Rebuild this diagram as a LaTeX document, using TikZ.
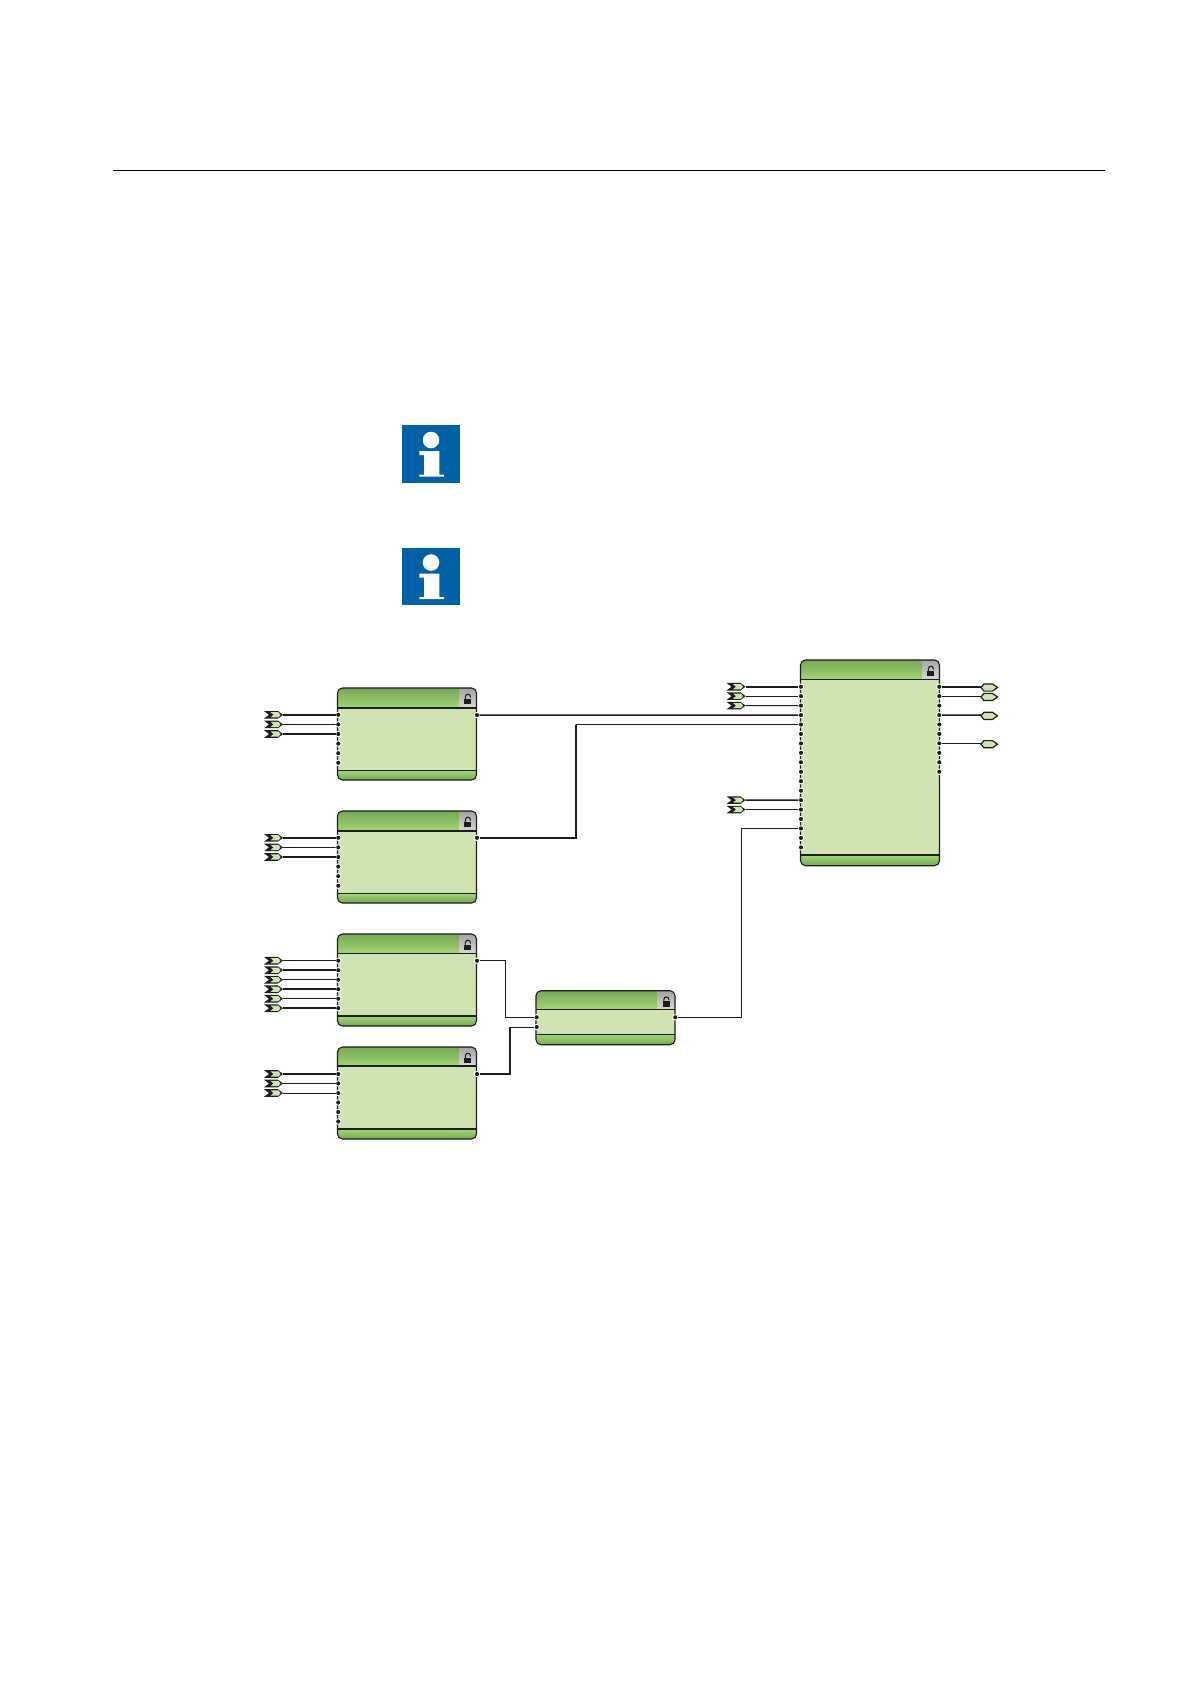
\documentclass[tikz,border=0pt]{standalone}
\definecolor{blockbody}{RGB}{207,228,178}
\definecolor{blocktop}{RGB}{118,168,88}
\definecolor{blockbottom}{RGB}{162,214,114}
\definecolor{infoblue}{RGB}{0,98,165}
\definecolor{wireblack}{RGB}{28,30,26}
\tikzset{
  thinwire/.style={draw=wireblack,line width=0.8pt},
  thickwire/.style={draw=wireblack,line width=1.6pt},
  portdot/.style={circle,fill=wireblack,draw=white,line width=0.9pt,inner sep=0pt,minimum size=5.4pt,outer sep=0pt},
  fblock/.style={anchor=north west,inner sep=0pt,outer sep=0pt,minimum width=139pt,rounded corners=5pt},
  pinnode/.style={inner sep=0pt,outer sep=0pt,minimum size=0pt},
}
\newcommand{\fblock}[6]{
  \node[fblock,minimum height=#4pt] (#1) at (#2,#3) {};
  \begin{scope}
    \clip[rounded corners=5pt] (#2,#3) rectangle ++(139,#4);
    \fill[blockbody] (#2,#3) rectangle ++(139,#4);
    \shade[top color=blocktop,bottom color=blockbottom] (#2,#3) rectangle ++(139,#5);
    \shade[top color=blockbottom,bottom color=blocktop] (#2,{#3+#4-#6}) rectangle ++(139,#6);
    \shade[top color=gray!70,bottom color=gray!30] ({#2+121.5},{#3+1}) rectangle ({#2+139},{#3+#5});
    \draw[wireblack,line width=1.1pt] ({#2+127.9},{#3+12}) -- ({#2+127.9},{#3+8.7})
      arc[start angle=180,end angle=360,radius=2.5] -- ({#2+132.9},{#3+9.5});
    \fill[wireblack] ({#2+126.8},{#3+10.5}) rectangle ({#2+133.8},{#3+16});
    \draw[wireblack,line width=1.4pt] (#2,{#3+#5}) -- ++(139,0);
    \draw[wireblack,line width=1.2pt] (#2,{#3+#4-#6}) -- ++(139,0);
  \end{scope}
  \draw[wireblack,line width=1.1pt,rounded corners=5pt] (#2,#3) rectangle ++(139,#4);
}
\newcommand{\portcol}[5]{
  \foreach \i in {1,...,#4}
    \node[portdot] (#1\i) at (#2,{#3+#5*(\i-1)}) {};
}
\newcommand{\inpin}[3]{
  \node[pinnode] (#1) at (#2,#3) {};
  \fill[wireblack] ({#2-19},{#3-3.8}) -- ({#2-5},{#3-3.8}) -- (#2,#3) -- ({#2-5},{#3+3.8})
    -- ({#2-19},{#3+3.8}) -- ({#2-14},#3) -- cycle;
  \fill[blockbody] ({#2-12.5},{#3-2.6}) -- ({#2-4.5},{#3-2.6}) -- ({#2-2.5},#3) -- ({#2-4.5},{#3+2.6})
    -- ({#2-12.5},{#3+2.6}) -- ({#2-9.5},#3) -- cycle;
}
\newcommand{\outpin}[3]{
  \node[pinnode] (#1) at (#2,#3) {};
  \draw[wireblack,fill=blockbody,line width=1.2pt] (#2,{#3+0.8}) -- ({#2+3},{#3-2.8}) -- ({#2+11.5},{#3-2.8})
    -- ({#2+16.5},{#3+0.8}) -- ({#2+11.5},{#3+4.4}) -- ({#2+3},{#3+4.4}) -- cycle;
}
\newcommand{\infoicon}[3]{
  \fill[infoblue] (#2,#3) rectangle ++(58,57.7);
  \fill[white] ({#2+29},{#3+15}) circle (8.3);
  \fill[white] ({#2+17.3},{#3+26}) -- ({#2+37.3},{#3+26}) -- ({#2+37.3},{#3+49.5}) -- ({#2+42},{#3+49.5})
    -- ({#2+42},{#3+51.7}) -- ({#2+17.3},{#3+51.7}) -- ({#2+17.3},{#3+49.5}) -- ({#2+22},{#3+49.5})
    -- ({#2+22},{#3+30}) -- ({#2+17.3},{#3+30}) -- cycle;
  \coordinate (#1) at (#2,#3);
}
\begin{document}
\begin{tikzpicture}[x=1pt,y=-1pt]
\useasboundingbox (0,0) rectangle (1191,1684);
\fill[white] (0,0) rectangle (1191,1684);

\coordinate (ruleL) at (112.7,170.5);
\coordinate (ruleR) at (1105,170.5);
\draw[black,line width=1pt] (ruleL)--(ruleR);

\infoicon{infoA}{402}{425}
\infoicon{infoB}{402}{547.5}

\fblock{fbA}{337.5}{688}{92}{20}{9.5}
\fblock{fbB}{337.5}{811}{92}{20}{9.5}
\fblock{fbC}{337.5}{934}{92}{19.3}{10}
\fblock{fbD}{337.5}{1047}{92}{19}{10}
\fblock{fbE}{536}{990.7}{54}{18.6}{10}
\fblock{fbF}{800.5}{660}{205.7}{19.3}{10.7}

\portcol{aL}{338.3}{714.8}{6}{9.6}
\portcol{bL}{338.3}{837.8}{6}{9.6}
\portcol{cL}{338.3}{960.7}{6}{9.5}
\portcol{dL}{338.3}{1074}{6}{9.5}
\portcol{eL}{536.7}{1017.3}{2}{9.7}
\portcol{fL}{801}{686.7}{18}{9.45}
\portcol{fR}{939.3}{686.7}{10}{9.45}
\node[portdot] (aR) at (477,715.05) {};
\node[portdot] (bR) at (477,837.8) {};
\node[portdot] (cR) at (477,960.7) {};
\node[portdot] (dR) at (477,1074) {};
\node[portdot] (eR) at (675.3,1017.3) {};

\inpin{pa1}{283}{714.8}
\inpin{pa2}{283}{724.4}
\inpin{pa3}{283}{734}
\inpin{pb1}{283}{837.8}
\inpin{pb2}{283}{847.4}
\inpin{pb3}{283}{857}
\inpin{pc1}{283}{960.7}
\inpin{pc2}{283}{970.2}
\inpin{pc3}{283}{979.7}
\inpin{pc4}{283}{989.2}
\inpin{pc5}{283}{998.7}
\inpin{pc6}{283}{1008.2}
\inpin{pd1}{283}{1074}
\inpin{pd2}{283}{1083.5}
\inpin{pd3}{283}{1093}
\inpin{pf1}{745.5}{686.7}
\inpin{pf2}{745.5}{696.15}
\inpin{pf3}{745.5}{705.6}
\inpin{pf4}{745.5}{800.1}
\inpin{pf5}{745.5}{809.55}
\outpin{qf1}{981}{686.7}
\outpin{qf2}{981}{696.15}
\outpin{qf3}{981}{715.05}
\outpin{qf4}{981}{743.4}

\draw[thickwire] (pa1)--(aL1);
\draw[thinwire] (pa2)--(aL2);
\draw[thickwire] (pa3)--(aL3);
\draw[thickwire] (pb1)--(bL1);
\draw[thinwire] (pb2)--(bL2);
\draw[thickwire] (pb3)--(bL3);
\draw[thinwire] (pc1)--(cL1);
\draw[thickwire] (pc2)--(cL2);
\draw[thinwire] (pc3)--(cL3);
\draw[thickwire] (pc4)--(cL4);
\draw[thinwire] (pc5)--(cL5);
\draw[thickwire] (pc6)--(cL6);
\draw[thickwire] (pd1)--(dL1);
\draw[thinwire] (pd2)--(dL2);
\draw[thinwire] (pd3)--(dL3);
\draw[thickwire] (pf1)--(fL1);
\draw[thinwire] (pf2)--(fL2);
\draw[thinwire] (pf3)--(fL3);
\draw[thickwire] (pf4)--(fL13);
\draw[thinwire] (pf5)--(fL14);
\draw[thickwire] (fR1)--(qf1);
\draw[thinwire] (fR2)--(qf2);
\draw[thickwire] (fR4)--(qf3);
\draw[thinwire] (fR7)--(qf4);

\coordinate (jb) at (575.7,724.5);
\coordinate (jc) at (505.7,990);
\coordinate (jd) at (510,1027);
\coordinate (je) at (741.7,900);
\draw[thickwire] (aR)--(fL4);
\draw[thickwire] (bR) -| (jb);
\draw[thinwire] (jb)--(fL5);
\draw[thinwire] (cR) -| (jc) |- (eL1);
\draw[thickwire] (dR) -| (jd);
\draw[thinwire] (jd)--(eL2);
\draw[thinwire] (eR) -| (je) |- (fL16);
\end{tikzpicture}
\end{document}
